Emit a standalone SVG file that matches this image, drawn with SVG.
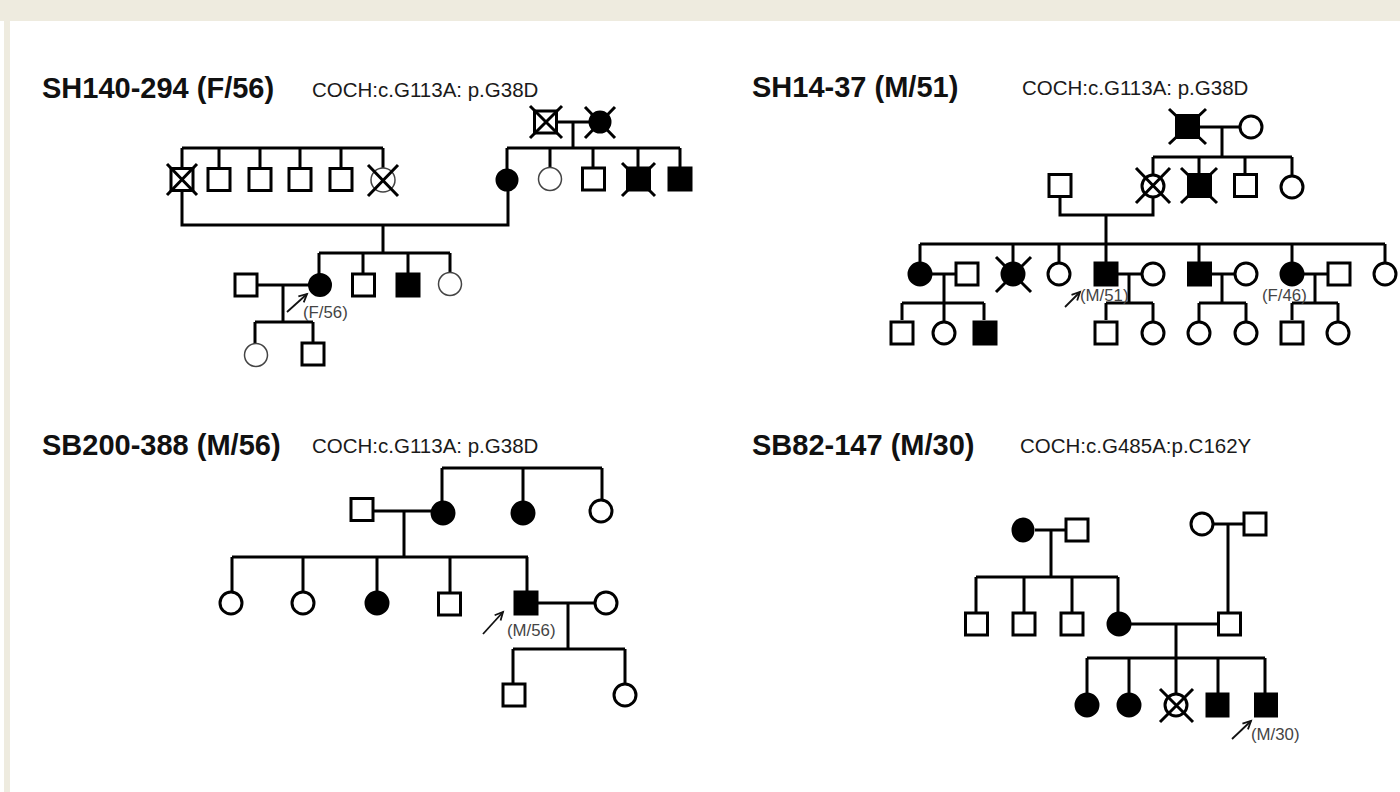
<svg xmlns="http://www.w3.org/2000/svg" width="1400" height="792" viewBox="0 0 1400 792">
<style>
.ln{stroke:#000;stroke-width:3;fill:none}
.sq{fill:#fff;stroke:#000;stroke-width:3}
.sqf{fill:#000;stroke:#000;stroke-width:3}
.ci{fill:#fff;stroke:#000;stroke-width:3}
.cif{fill:#000;stroke:#000;stroke-width:3}
.thin{fill:#fff;stroke:#444;stroke-width:1.5}
.x{stroke:#000;stroke-width:3;fill:none}
.arr{stroke:#111;stroke-width:1.8;fill:none;marker-end:url(#ah)}
.t1{font-family:"Liberation Sans",Arial,sans-serif;font-weight:bold;font-size:29px;fill:#111}
.t2{font-family:"Liberation Sans",Arial,sans-serif;font-size:20.5px;fill:#1a1a1a}
.lab{font-family:"Liberation Sans",Arial,sans-serif;font-size:16.8px;fill:#444}
</style>
<defs>
<marker id="ah" markerUnits="userSpaceOnUse" markerWidth="12" markerHeight="12" refX="9" refY="5" orient="auto">
<path d="M1,1 L9,5 L1,9" stroke="#111" stroke-width="1.8" fill="none"/>
</marker>
</defs>
<rect x="0" y="0" width="1400" height="792" fill="#fff"/>
<rect x="0" y="0" width="1400" height="21" fill="#eeebdf"/>
<rect x="4" y="21" width="6" height="771" fill="#eeebdf"/>

<!-- Titles -->
<g id="titles">
<text class="t1" x="42" y="98">SH140-294 (F/56)</text>
<text class="t2" x="312" y="97">COCH:c.G113A: p.G38D</text>
<text class="t1" x="752" y="97">SH14-37 (M/51)</text>
<text class="t2" x="1022" y="95">COCH:c.G113A: p.G38D</text>
<text class="t1" x="42" y="455">SB200-388 (M/56)</text>
<text class="t2" x="312" y="453">COCH:c.G113A: p.G38D</text>
<text class="t1" x="752" y="455">SB82-147 (M/30)</text>
<text class="t2" x="1020" y="453">COCH:c.G485A:p.C162Y</text>
</g>

<!-- Connectors -->
<g id="connectors">
<!-- pedigree 1 -->
<path class="ln" d="M182,148 H383 M182,148 V167 M219,148 V167 M260,148 V167 M300,148 V167 M341,148 V167 M383,148 V168"/>
<path class="ln" d="M182,192 V225 H508 V191"/>
<path class="ln" d="M558,122 H589 M573,122 V148 M507,148 H680 M507,148 V169 M550,148 V168 M593,148 V167 M638,148 V167 M680,148 V167"/>
<path class="ln" d="M383,225 V253 M319,253 H450 M319,253 V274 M363,253 V273 M408,253 V273 M450,253 V273"/>
<path class="ln" d="M258,285 H309 M283,285 V322 M255,322 H313 M255,322 V344 M313,322 V342"/>
<path class="arr" d="M287,312 L307,294"/>
<!-- pedigree 2 -->
<path class="ln" d="M1200,127 H1239 M1222,127 V157 M1153,157 H1292 M1153,157 V174 M1199,157 V173 M1245,157 V173 M1292,157 V175"/>
<path class="ln" d="M1060,198 V215 H1153 V198 M1106,215 V244"/>
<path class="ln" d="M920,244 H1385 M920,244 V262 M1013,244 V262 M1059,244 V262 M1106,244 V262 M1199,244 V262 M1292,244 V262 M1385,244 V262"/>
<path class="ln" d="M932,274 H955 M944,274 V303 M902,303 H984 M902,303 V320 M944,303 V321 M984,303 V320"/>
<path class="ln" d="M1117,274 H1141 M1129,274 V303 M1106,303 H1153 M1106,303 V320 M1153,303 V321"/>
<path class="ln" d="M1211,274 H1234 M1222,274 V303 M1199,303 H1246 M1199,303 V321 M1246,303 V321"/>
<path class="ln" d="M1304,274 H1327 M1315,274 V303 M1292,303 H1338 M1292,303 V320 M1338,303 V321"/>
<path class="arr" d="M1065,307 L1080,292"/>
<!-- pedigree 3 -->
<path class="ln" d="M442,468 H602 M442,468 V501 M523,468 V501 M602,468 V499"/>
<path class="ln" d="M374,511 H431 M404,511 V557 M232,557 H528 M232,557 V591 M303,557 V591 M377,557 V591 M450,557 V592 M527,557 V591"/>
<path class="ln" d="M537,603 H594 M568,603 V649 M513,649 H625 M513,649 V683 M625,649 V683"/>
<path class="arr" d="M483,634 L503,612"/>
<!-- pedigree 4 -->
<path class="ln" d="M1035,530 H1065 M1051,530 V577 M976,577 H1118 M976,577 V612 M1024,577 V612 M1072,577 V612 M1118,577 V612"/>
<path class="ln" d="M1214,524 H1244 M1228,524 V612"/>
<path class="ln" d="M1131,624 H1218 M1176,624 V658 M1087,658 H1265 M1087,658 V693 M1129,658 V693 M1176,658 V693 M1218,658 V693 M1265,658 V693"/>
<path class="arr" d="M1232,739 L1251,721"/>
</g>

<!-- Pedigree 1 nodes -->
<g id="p1-i1"><rect class="sq" x="171" y="168.5" width="22" height="22"/><path class="x" d="M167,164 L197,195 M197,164 L167,195"/></g>
<g id="p1-i2"><rect class="sq" x="208" y="168.5" width="22" height="22"/></g>
<g id="p1-i3"><rect class="sq" x="249" y="168.5" width="22" height="22"/></g>
<g id="p1-i4"><rect class="sq" x="289" y="168.5" width="22" height="22"/></g>
<g id="p1-i5"><rect class="sq" x="330" y="168.5" width="22" height="22"/></g>
<g id="p1-i6"><circle class="thin" cx="383" cy="180" r="12"/><path class="x" d="M368,165 L398,196 M398,165 L368,196"/></g>
<g id="p1-gf"><rect class="sq" x="534.5" y="111" width="22" height="22"/><path class="x" d="M530,106 L562,138 M562,106 L530,138"/></g>
<g id="p1-gm"><circle class="cif" cx="600" cy="122" r="10"/><path class="x" d="M585,107 L615,138 M615,107 L585,138"/></g>
<g id="p1-m"><circle class="cif" cx="507" cy="180" r="10"/></g>
<g id="p1-a1"><circle class="thin" cx="550" cy="179" r="11.5"/></g>
<g id="p1-a2"><rect class="sq" x="582.5" y="168" width="22" height="22"/></g>
<g id="p1-a3"><rect class="sqf" x="627.5" y="168" width="22" height="22"/><path class="x" d="M622,163 L655,196 M655,163 L622,196"/></g>
<g id="p1-a4"><rect class="sqf" x="669" y="168" width="22" height="22"/></g>
<g id="p1-proband"><circle class="cif" cx="320" cy="285" r="10.5"/><text class="lab" x="303" y="318">(F/56)</text></g>
<g id="p1-s2"><rect class="sq" x="352.5" y="274" width="22" height="22"/></g>
<g id="p1-s3"><rect class="sqf" x="397" y="274" width="22" height="22"/></g>
<g id="p1-s4"><circle class="thin" cx="450" cy="284" r="11.5"/></g>
<g id="p1-sp"><rect class="sq" x="235" y="274" width="22" height="22"/></g>
<g id="p1-c1"><circle class="thin" cx="256" cy="355" r="11.5"/></g>
<g id="p1-c2"><rect class="sq" x="302" y="343" width="22" height="22"/></g>

<!-- Pedigree 2 nodes -->
<g id="p2-gf"><rect class="sqf" x="1176.5" y="115.5" width="22" height="22"/><path class="x" d="M1169,109 L1206,144 M1206,109 L1169,144"/></g>
<g id="p2-gm"><circle class="ci" cx="1251" cy="127" r="11"/></g>
<g id="p2-f"><rect class="sq" x="1049" y="174.5" width="22" height="22"/></g>
<g id="p2-m"><circle class="ci" cx="1153" cy="186" r="11"/><path class="x" d="M1136,168 L1170,203 M1170,168 L1136,203"/></g>
<g id="p2-u1"><rect class="sqf" x="1188.5" y="174.5" width="22" height="22"/><path class="x" d="M1181,168 L1217,203 M1217,168 L1181,203"/></g>
<g id="p2-u2"><rect class="sq" x="1234.5" y="174.5" width="22" height="22"/></g>
<g id="p2-u3"><circle class="ci" cx="1292" cy="187" r="11"/></g>
<g id="p2-s1"><circle class="cif" cx="920" cy="274" r="11"/></g>
<g id="p2-s1sp"><rect class="sq" x="956" y="263" width="22" height="22"/></g>
<g id="p2-g1"><rect class="sq" x="891" y="322" width="22" height="22"/></g>
<g id="p2-g2"><circle class="ci" cx="944" cy="333" r="11"/></g>
<g id="p2-g3"><rect class="sqf" x="974" y="322" width="22" height="22"/></g>
<g id="p2-s2"><circle class="cif" cx="1013" cy="274" r="11"/><path class="x" d="M996,257 L1031,292 M1031,257 L996,292"/></g>
<g id="p2-s3"><circle class="ci" cx="1059" cy="274" r="11"/></g>
<g id="p2-proband"><rect class="sqf" x="1095" y="263" width="22" height="22"/><text class="lab" x="1080" y="301">(M/51)</text></g>
<g id="p2-psp"><circle class="ci" cx="1153" cy="274" r="11"/></g>
<g id="p2-g4"><rect class="sq" x="1095" y="322" width="22" height="22"/></g>
<g id="p2-g5"><circle class="ci" cx="1153" cy="333" r="11"/></g>
<g id="p2-s4"><rect class="sqf" x="1188.5" y="263" width="22" height="22"/></g>
<g id="p2-s4sp"><circle class="ci" cx="1246" cy="274" r="11"/></g>
<g id="p2-g6"><circle class="ci" cx="1199" cy="333" r="11"/></g>
<g id="p2-g7"><circle class="ci" cx="1246" cy="333" r="11"/></g>
<g id="p2-s5"><circle class="cif" cx="1292" cy="274" r="11"/><text class="lab" x="1262" y="301">(F/46)</text></g>
<g id="p2-s5sp"><rect class="sq" x="1328" y="263" width="22" height="22"/></g>
<g id="p2-g8"><rect class="sq" x="1281" y="322" width="22" height="22"/></g>
<g id="p2-g9"><circle class="ci" cx="1338" cy="333" r="11"/></g>
<g id="p2-s6"><circle class="ci" cx="1385" cy="274" r="11"/></g>

<!-- Pedigree 3 nodes -->
<g id="p3-f"><rect class="sq" x="351" y="498.5" width="22" height="22"/></g>
<g id="p3-m"><circle class="cif" cx="443" cy="513" r="11"/></g>
<g id="p3-a1"><circle class="cif" cx="523" cy="513" r="11"/></g>
<g id="p3-a2"><circle class="ci" cx="601" cy="511" r="11"/></g>
<g id="p3-s1"><circle class="ci" cx="231" cy="603" r="11"/></g>
<g id="p3-s2"><circle class="ci" cx="303" cy="603" r="11"/></g>
<g id="p3-s3"><circle class="cif" cx="377" cy="603" r="11"/></g>
<g id="p3-s4"><rect class="sq" x="438.5" y="593" width="22" height="22"/></g>
<g id="p3-proband"><rect class="sqf" x="515" y="592" width="22" height="22"/><text class="lab" x="507" y="636">(M/56)</text></g>
<g id="p3-sp"><circle class="ci" cx="606" cy="603" r="11"/></g>
<g id="p3-c1"><rect class="sq" x="503" y="684" width="22" height="22"/></g>
<g id="p3-c2"><circle class="ci" cx="625" cy="695" r="11"/></g>

<!-- Pedigree 4 nodes -->
<g id="p4-gm"><ellipse class="cif" cx="1023" cy="530" rx="10" ry="11"/></g>
<g id="p4-gf"><rect class="sq" x="1066" y="519" width="22" height="22"/></g>
<g id="p4-gm2"><circle class="ci" cx="1202" cy="524" r="11"/></g>
<g id="p4-gf2"><rect class="sq" x="1244" y="513" width="22" height="22"/></g>
<g id="p4-u1"><rect class="sq" x="965.5" y="613" width="22" height="22"/></g>
<g id="p4-u2"><rect class="sq" x="1013" y="613" width="22" height="22"/></g>
<g id="p4-u3"><rect class="sq" x="1061" y="613" width="22" height="22"/></g>
<g id="p4-m"><circle class="cif" cx="1119" cy="624" r="11"/></g>
<g id="p4-f"><rect class="sq" x="1218.5" y="613" width="22" height="22"/></g>
<g id="p4-c1"><circle class="cif" cx="1087" cy="705" r="11"/></g>
<g id="p4-c2"><circle class="cif" cx="1129" cy="705" r="11"/></g>
<g id="p4-c3"><circle class="ci" cx="1176" cy="705" r="11"/><path class="x" d="M1160,689 L1193,722 M1193,689 L1160,722"/></g>
<g id="p4-c4"><rect class="sqf" x="1207" y="694" width="21" height="22"/></g>
<g id="p4-proband"><rect class="sqf" x="1255.5" y="694" width="21" height="22"/><text class="lab" x="1251" y="740">(M/30)</text></g>
</svg>
